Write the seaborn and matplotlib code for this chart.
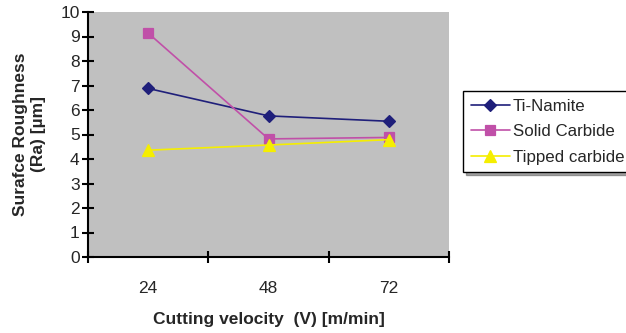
import matplotlib
matplotlib.use("Agg")
import matplotlib.pyplot as plt
import pandas as pd
import seaborn as sns

velocity = ["24", "48", "72"]
ti_namite = [6.88, 5.76, 5.54]
solid_carbide = [9.14, 4.82, 4.88]
tipped_carbide = [4.36, 4.57, 4.79]

series = {
    "Ti-Namite": ti_namite,
    "Solid Carbide": solid_carbide,
    "Tipped carbide": tipped_carbide,
}
rows = []
for name, vals in series.items():
    for v, r in zip(velocity, vals):
        rows.append({"velocity": v, "ra": r, "tool": name})
df = pd.DataFrame(rows)

sns.set_theme(style="white")
plt.rcParams["font.family"] = ["Liberation Sans", "DejaVu Sans"]

fig = plt.figure(figsize=(6.26, 3.33), dpi=100)
ax = fig.add_axes([88 / 626, 1 - 257 / 333, 361 / 626, 245 / 333])
ax.set_facecolor("#c0c0c0")

colors = {"Ti-Namite": "#1f1f7a", "Solid Carbide": "#c050a8", "Tipped carbide": "#f5ee00"}
markers = {"Ti-Namite": "D", "Solid Carbide": "s", "Tipped carbide": "^"}
sizes = {"Ti-Namite": 6, "Solid Carbide": 6.5, "Tipped carbide": 8}

for name in series:
    sub = df[df.tool == name]
    sns.pointplot(ax=ax, data=sub, x="velocity", y="ra", color=colors[name],
                  marker=markers[name], markersize=sizes[name], linewidth=1.2,
                  label=name, errorbar=None)

fs = 12.5
ax.set_xlim(-0.5, 2.5)
ax.set_ylim(0, 10)
ax.set_yticks(range(0, 11))
ax.set_xticks([-0.5, 0.5, 1.5, 2.5])
ax.set_xticklabels([])
ax.set_xticks([0, 1, 2], minor=True)
ax.set_xticklabels(velocity, minor=True)
ax.tick_params(axis="x", which="minor", bottom=False, length=0, pad=17, labelsize=fs)
ax.tick_params(axis="x", which="major", bottom=True, length=8, width=1.5,
               direction="inout", color="black")
ax.tick_params(axis="y", left=True, length=8, width=1.5, direction="inout",
               color="black", labelsize=fs, pad=2)
for s in ["top", "right"]:
    ax.spines[s].set_visible(False)
for s in ["left", "bottom"]:
    ax.spines[s].set_color("black")
    ax.spines[s].set_linewidth(1.5)
ax.grid(False)

ax.set_xlabel("Cutting velocity  (V) [m/min]", fontsize=fs, fontweight="bold", labelpad=12)
ax.set_ylabel("Surafce Roughness\n(Ra) [µm]", fontsize=fs, fontweight="bold", labelpad=10,
              linespacing=1.25)

handles, labels = ax.get_legend_handles_labels()
if ax.get_legend() is not None:
    ax.get_legend().remove()
leg = fig.legend(handles, labels, loc="upper left", bbox_to_anchor=(463 / 626, 1 - 91 / 333),
                 frameon=True, fancybox=False, shadow=True, fontsize=12.2,
                 handlelength=2.3, handletextpad=0.2, borderpad=0.45,
                 labelspacing=0.62, borderaxespad=0)
leg.get_frame().set_edgecolor("black")
leg.get_frame().set_linewidth(1.0)

fig.savefig("out.png", dpi=100)
